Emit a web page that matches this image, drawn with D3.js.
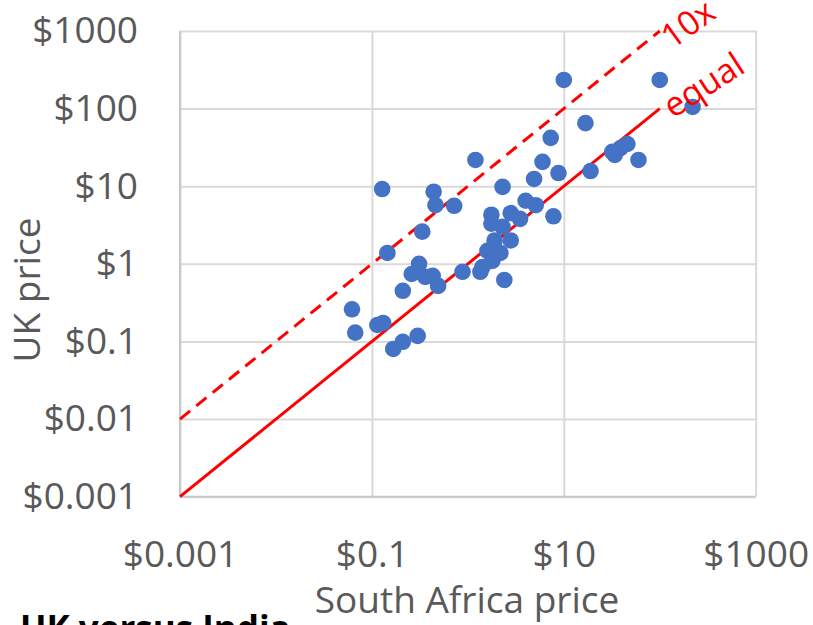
<!DOCTYPE html>
<html>
<head>
<meta charset="utf-8">
<script src="https://cdn.jsdelivr.net/npm/d3@7"></script>
<style>
  body { margin: 0; background: #fff; }
  svg { display: block; font-family: "Open Sans", sans-serif; }
</style>
</head>
<body>
<script>
// South Africa price (x) vs UK price (y)
const saPrice = [10, 100, 220, 16.8, 7.3, 6.0, 1.2, 8.8, 4.9, 19, 34, 39, 46, 60, 2.3, 0.128,
  0.44, 0.46, 0.72, 4.0, 5.1, 7.8, 1.76, 2.8, 3.5, 1.76, 2.3, 1.9, 2.8, 0.335, 1.6, 2.18,
  1.8, 1.42, 1.35, 0.88, 2.4, 0.145, 0.31, 0.26, 0.36, 0.43, 0.49, 0.21, 0.062, 0.067,
  0.114, 0.131, 0.167, 0.21, 0.30, 32];
const ukPrice = [234, 234, 105, 65, 42, 20.6, 21.8, 14.8, 12.4, 15.7, 25.3, 31, 35, 21.8, 9.8, 9.2,
  8.5, 5.7, 5.6, 6.5, 5.7, 4.1, 4.3, 4.5, 3.8, 3.3, 3.0, 2.0, 2.0, 2.6, 1.47, 1.38,
  1.09, 0.91, 0.79, 0.79, 0.62, 1.38, 1.0, 0.74, 0.68, 0.70, 0.52, 0.45, 0.26, 0.13,
  0.163, 0.173, 0.080, 0.099, 0.118, 27.7];

const xTicks = [0.001, 0.1, 10, 1000];
const yTicks = [0.001, 0.01, 0.1, 1, 10, 100, 1000];

// reference lines
const equalLine = [[0.001, 0.001], [100, 100]];
const tenxLine = [[0.001, 0.01], [100, 1000]];

const width = 813;
const height = 625;
const plotLeft = 180, plotRight = 755.7, plotTop = 31, plotBottom = 496.7;

const svg = d3.select('body').append('svg').attr('width', width).attr('height', height);

const x = d3.scaleLog().domain([0.001, 1000]).range([plotLeft, plotRight]);
const y = d3.scaleLog().domain([0.001, 1000]).range([plotBottom, plotTop]);

const fmt = d => '$' + d;

// grid
svg.append('g')
  .attr('transform', `translate(0,${plotBottom})`)
  .call(d3.axisBottom(x).tickValues(xTicks).tickSize(-(plotBottom - plotTop)).tickFormat(''))
  .call(g => g.select('.domain').remove())
  .call(g => g.selectAll('line').attr('stroke', '#d9d9d9').attr('stroke-width', 2));

svg.append('g')
  .attr('transform', `translate(${plotLeft},0)`)
  .call(d3.axisLeft(y).tickValues(yTicks).tickSize(-(plotRight - plotLeft)).tickFormat(''))
  .call(g => g.select('.domain').remove())
  .call(g => g.selectAll('line').attr('stroke', '#d9d9d9').attr('stroke-width', 2));

// axis lines
svg.append('line').attr('x1', plotLeft).attr('x2', plotLeft).attr('y1', plotTop).attr('y2', plotBottom)
  .attr('stroke', '#c8c8c8').attr('stroke-width', 2);
svg.append('line').attr('x1', plotLeft).attr('x2', plotRight).attr('y1', plotBottom).attr('y2', plotBottom)
  .attr('stroke', '#c8c8c8').attr('stroke-width', 2);

// tick labels
svg.append('g')
  .attr('transform', `translate(0,${plotBottom})`)
  .call(d3.axisBottom(x).tickValues(xTicks).tickSize(0).tickPadding(44).tickFormat(fmt))
  .call(g => g.select('.domain').remove())
  .call(g => g.selectAll('text').attr('fill', '#595959').style('font-size', '37px')
    .style('font-family', '"Open Sans", sans-serif'));

svg.append('g')
  .attr('transform', `translate(${plotLeft},0)`)
  .call(d3.axisLeft(y).tickValues(yTicks).tickSize(0).tickPadding(42).tickFormat(fmt))
  .call(g => g.select('.domain').remove())
  .call(g => g.selectAll('text').attr('fill', '#595959').style('font-size', '37px')
    .style('font-family', '"Open Sans", sans-serif'));

// reference lines
const line = d3.line().x(d => x(d[0])).y(d => y(d[1]));

svg.append('path').datum(tenxLine).attr('d', line)
  .attr('fill', 'none').attr('stroke', '#ff0000').attr('stroke-width', 3)
  .attr('stroke-dasharray', '13,8');
svg.append('path').datum(equalLine).attr('d', line)
  .attr('fill', 'none').attr('stroke', '#ff0000').attr('stroke-width', 3);

// points
svg.append('g').selectAll('circle')
  .data(saPrice.map((v, i) => [v, ukPrice[i]]))
  .join('circle')
  .attr('cx', d => x(d[0]))
  .attr('cy', d => y(d[1]))
  .attr('r', 8.3)
  .attr('fill', '#4472c4');

// line labels
svg.append('text').attr('transform', 'translate(672,50) rotate(-36)')
  .attr('fill', '#ff0000').style('font-size', '34px').text('10x');
svg.append('text').attr('transform', 'translate(673,119) rotate(-33)')
  .attr('fill', '#ff0000').style('font-size', '34px').text('equal');

// axis titles
svg.append('text')
  .attr('transform', 'translate(40,290) rotate(-90)')
  .attr('text-anchor', 'middle').attr('fill', '#595959').style('font-size', '37px')
  .text('UK price');
svg.append('text')
  .attr('x', 467).attr('y', 613)
  .attr('text-anchor', 'middle').attr('fill', '#595959').style('font-size', '37px')
  .text('South Africa price');

// next chart title, cut off at the bottom
svg.append('text')
  .attr('x', 20).attr('y', 641)
  .attr('fill', '#000').style('font-size', '35px').style('font-weight', 'bold')
  .text('UK versus India');
</script>
</body>
</html>
